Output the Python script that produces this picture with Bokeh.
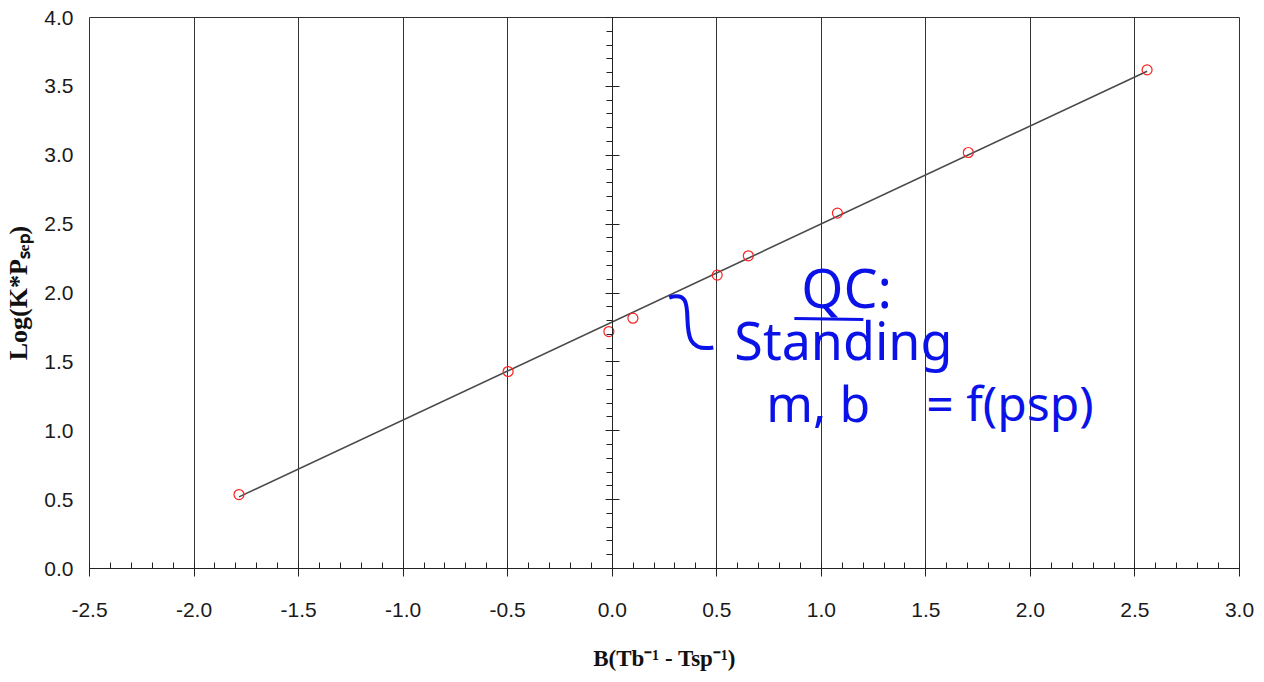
from bokeh.plotting import figure
from bokeh.models import (Range1d, SingleIntervalTicker, NumeralTickFormatter, LinearAxis,
                          CustomJSTickFormatter, Label, ColumnDataSource)
from bokeh.embed import file_html
from bokeh.resources import INLINE

# ---- data ----
bx = [-1.785, -0.498, -0.016, 0.099, 0.502, 0.651, 1.077, 1.703, 2.558]
logkp = [0.537, 1.43, 1.72, 1.817, 2.13, 2.27, 2.58, 3.02, 3.62]
fit_x = [-1.785, 2.558]
fit_y = [0.52, 3.61]

x_title = "B(Tb\u207b\u00b9 - Tsp\u207b\u00b9)"
y_title = "Log(K*P\u209b\u2091\u209a)"

# handwritten notes (blue ink) : text, x, y (data units), size
note_text = ["QC:", "Standing", "m, b", "= f(psp)"]
note_x = [0.904, 0.584, 0.737, 1.502]
note_y = [2.040, 1.663, 1.205, 1.205]
note_size = ["54px", "52px", "50px", "48px"]
bar_x = [0.871, 1.201]
bar_y = [1.815, 1.808]
squiggle = dict(x0=[0.2727], y0=[1.9673], cx0=[0.4498], cy0=[2.0544],
                cx1=[0.2584], cy1=[1.5463], x1=[0.4833], y1=[1.6044])

W, H = 1260, 680
p = figure(width=W, height=H, output_backend="svg", toolbar_location=None,
           x_range=Range1d(-2.5, 3.0), y_range=Range1d(0, 4.0),
           min_border_left=89, min_border_right=21, min_border_top=17, min_border_bottom=112)
p.background_fill_color = "white"
p.border_fill_color = "white"
p.outline_line_color = "#333333"
p.outline_line_width = 1

xt = SingleIntervalTicker(interval=0.5, num_minor_ticks=5)
yt = SingleIntervalTicker(interval=0.5, num_minor_ticks=5)

# x axis
xa = p.xaxis[0]
xa.ticker = xt
xa.formatter = NumeralTickFormatter(format="0.0")
xa.axis_line_color = "#222222"
xa.major_tick_in = 0
xa.major_tick_out = 8
xa.minor_tick_in = 6
xa.minor_tick_out = 0
xa.major_tick_line_color = "#222222"
xa.minor_tick_line_color = "#222222"
xa.major_label_text_font = "Liberation Sans"
xa.major_label_text_font_size = "21px"
xa.major_label_text_color = "#1a1a1a"
xa.major_label_standoff = 26
xa.axis_label = x_title
xa.axis_label_text_font = "Liberation Serif"
xa.axis_label_text_font_style = "bold"
xa.axis_label_text_font_size = "23px"
xa.axis_label_text_color = "#111111"
xa.axis_label_standoff = 26

# left y axis: labels only
ya = p.yaxis[0]
ya.ticker = yt
ya.formatter = NumeralTickFormatter(format="0.0")
ya.axis_line_color = None
ya.major_tick_line_color = None
ya.minor_tick_line_color = None
ya.major_tick_out = 0
ya.major_tick_in = 0
ya.major_label_text_font = "Liberation Sans"
ya.major_label_text_font_size = "21px"
ya.major_label_text_color = "#1a1a1a"
ya.major_label_standoff = 12
ya.axis_label = y_title
ya.axis_label_text_font = "Liberation Serif"
ya.axis_label_text_font_style = "bold"
ya.axis_label_text_font_size = "26px"
ya.axis_label_text_color = "#111111"
ya.axis_label_standoff = 8

# y axis line crossing at x = 0
ya2 = LinearAxis(ticker=SingleIntervalTicker(interval=0.5, num_minor_ticks=5),
                 formatter=CustomJSTickFormatter(code="return ''"),
                 fixed_location=0,
                 axis_line_color="#222222", major_tick_line_color="#222222",
                 minor_tick_line_color="#222222",
                 major_tick_in=7, major_tick_out=7, minor_tick_in=6, minor_tick_out=0,
                 major_label_text_font_size="1px")
p.add_layout(ya2, "right")

# grid
p.xgrid.ticker = xt
p.xgrid.grid_line_color = "#333333"
p.xgrid.grid_line_width = 1
p.ygrid.grid_line_color = None

# fit line and points
p.line(fit_x, fit_y, line_color="#4a4a4a", line_width=1.6)
p.scatter(bx, logkp, marker="circle", size=10, fill_color=None,
          line_color="#ff2020", line_width=1.2)

# handwritten notes
ink = "#0a12e8"
for t, x, y, s in zip(note_text, note_x, note_y, note_size):
    p.add_layout(Label(x=x, y=y, text=t, text_font="Noto Sans", text_font_size=s,
                       text_color=ink, text_align="left", text_baseline="alphabetic"))
p.line(bar_x, bar_y, line_color=ink, line_width=3)
p.bezier(source=ColumnDataSource(squiggle), x0="x0", y0="y0", x1="x1", y1="y1",
         cx0="cx0", cy0="cy0", cx1="cx1", cy1="cy1", line_color=ink, line_width=4)

open("out.html", "w").write(file_html(p, INLINE))
